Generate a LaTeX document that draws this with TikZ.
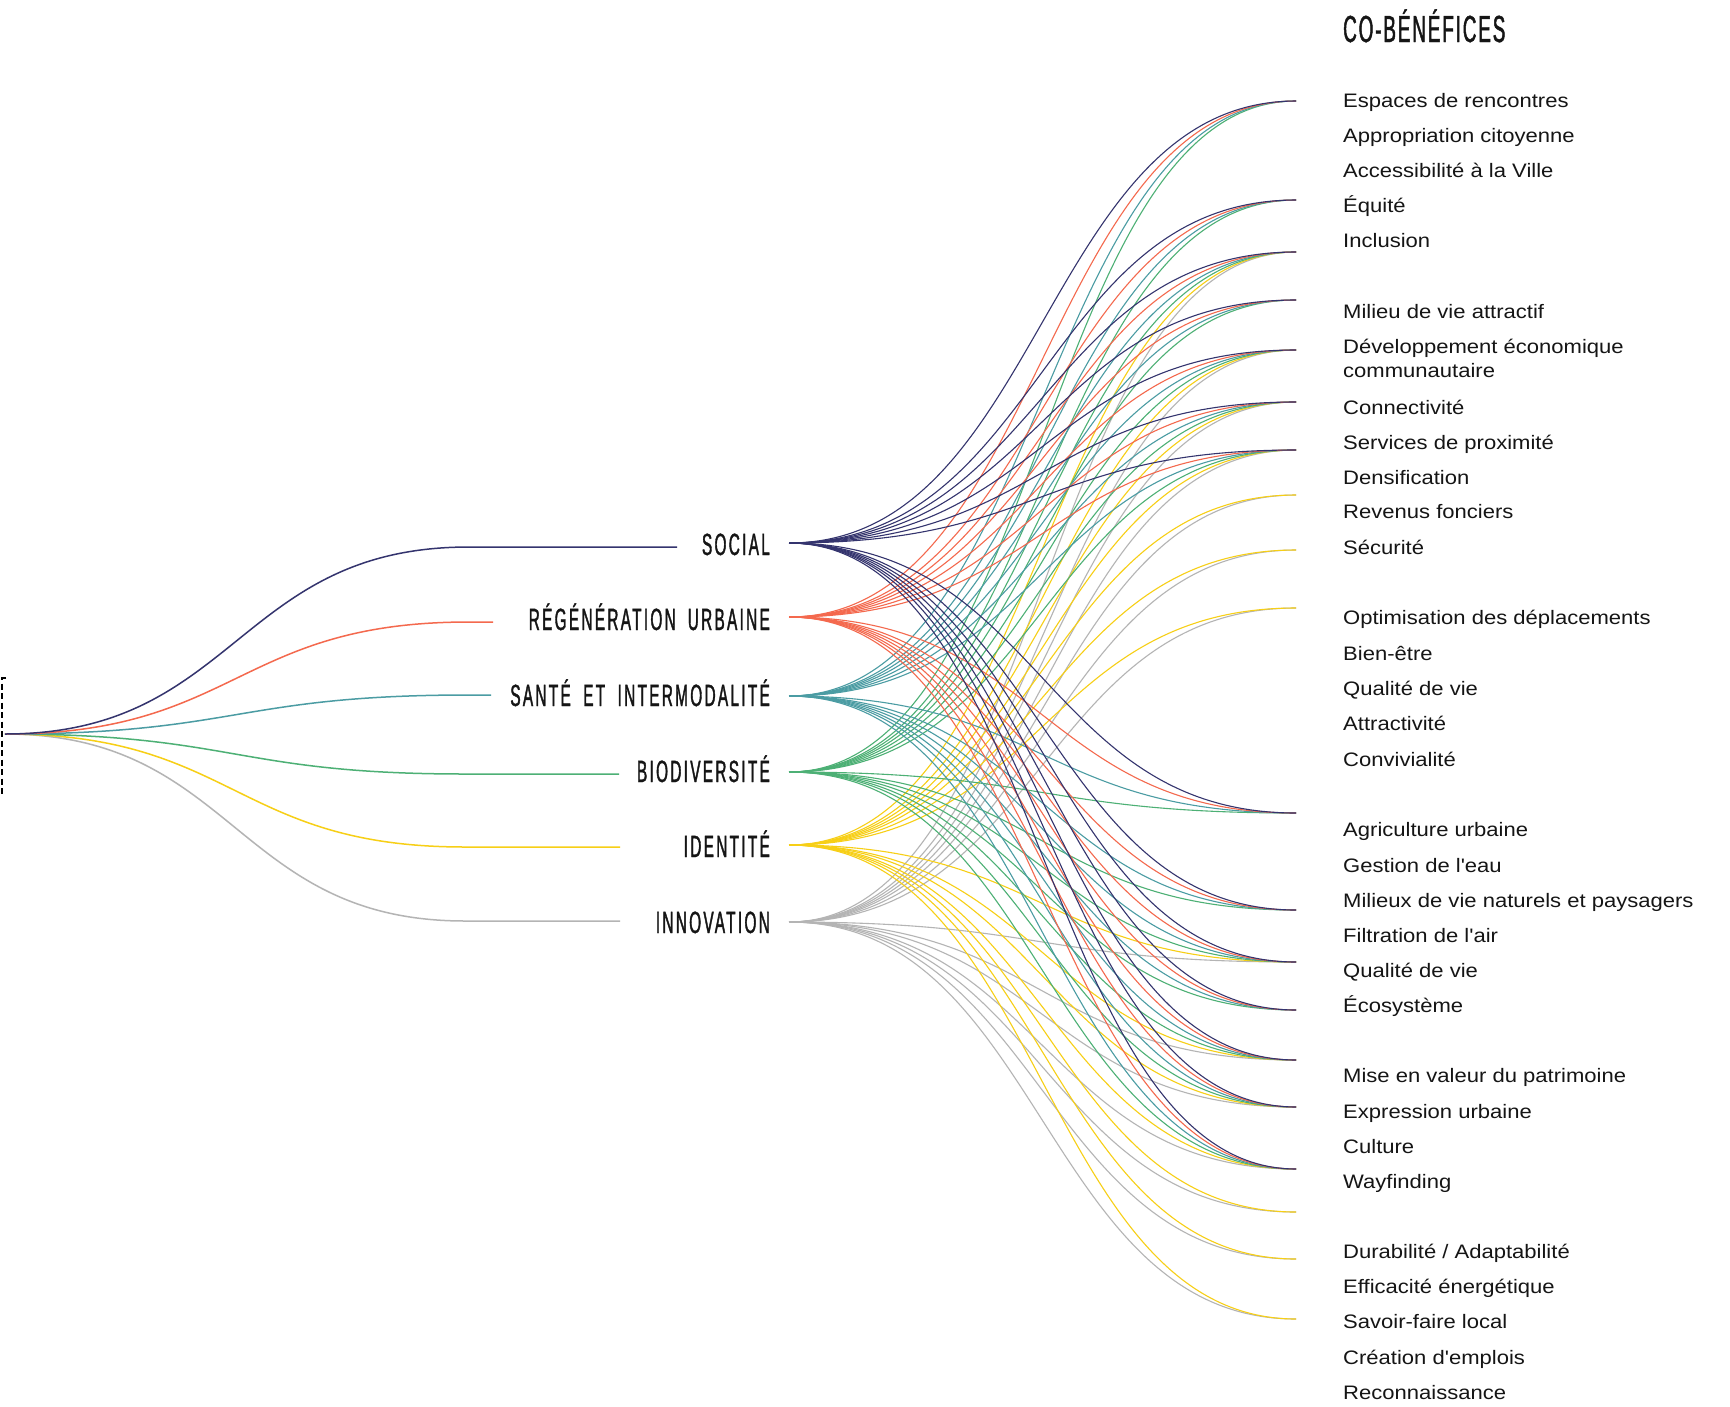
\documentclass[tikz,border=0pt]{standalone}
\usepackage{fontspec}
\newfontfamily\itemfont{Liberation Sans}[FakeStretch=1.13]
\newfontfamily\catfont{Liberation Sans}[FakeStretch=0.5,FakeBold=1.2,LetterSpace=7.5]
\newfontfamily\headfont{Liberation Sans}[FakeStretch=0.5,FakeBold=1.2,LetterSpace=5]
\usetikzlibrary{calc}
\definecolor{cSoc}{HTML}{34346E}
\definecolor{cReg}{HTML}{F4694E}
\definecolor{cSan}{HTML}{4B9CA3}
\definecolor{cBio}{HTML}{4DB075}
\definecolor{cIde}{HTML}{F7CF16}
\definecolor{cInn}{HTML}{B4B4B4}
\definecolor{txt}{HTML}{151515}
\begin{document}
\begin{tikzpicture}[x=1pt,y=-1pt,
  item/.style={anchor=base west, inner sep=0pt, text=txt, font=\itemfont\fontsize{19.5}{23}\selectfont},
  cat/.style={anchor=base east, inner sep=0pt, text=txt, font=\catfont\fontsize{30.7}{34}\selectfont},
  head/.style={anchor=base west, inner sep=0pt, text=txt, font=\headfont\fontsize{37.7}{40}\selectfont},
  fan/.style={line width=1.1pt},
  trunk/.style={line width=1.5pt},
  bracket/.style={black, line width=1.8pt, dash pattern=on 6pt off 3.5pt}]
\useasboundingbox[fill=white] (0,0) rectangle (1730,1406);

% root and bracket
\coordinate (root) at (5,734);
\draw[bracket] (6,678) -- (2,678) -- (2,793) -- (6,793);

% category labels
\node[cat] (cat1) at (770,555) {SOCIAL};
\node[cat] (cat2) at (770,630) {RÉGÉNÉRATION\hspace{12pt}URBAINE};
\node[cat] (cat3) at (770,706) {SANTÉ\hspace{12.5pt}ET\hspace{12.5pt}INTERMODALITÉ};
\node[cat] (cat4) at (770,782) {BIODIVERSITÉ};
\node[cat] (cat5) at (770,857) {IDENTITÉ};
\node[cat] (cat6) at (770,933) {INNOVATION};

% trunk coordinates
\coordinate (k1) at (469,547); \coordinate (l1) at (677,547);
\coordinate (k2) at (469,622); \coordinate (l2) at (493,622);
\coordinate (k3) at (469,695); \coordinate (l3) at (491,695);
\coordinate (k4) at (465,774); \coordinate (l4) at (619,774);
\coordinate (k5) at (465,847); \coordinate (l5) at (620,847);
\coordinate (k6) at (465,921); \coordinate (l6) at (620,921);

% fan start coordinates
\coordinate (s1) at (789,543);
\coordinate (s2) at (789,617);
\coordinate (s3) at (789,696);
\coordinate (s4) at (789,772);
\coordinate (s5) at (789,845);
\coordinate (s6) at (789,922);

% fan end coordinates
\foreach \y [count=\i] in {101,200,252,300,350,402,450,495,550,608,813,910,962,1010,1060,1107,1169,1212,1259,1319}
  \coordinate (e\i) at (1296,\y);

% trunks
\foreach \c/\col in {6/cInn,5/cIde,4/cBio,3/cSan,2/cReg,1/cSoc}{
  \draw[trunk,\col] let \p1=(root),\p2=(k\c),\n1={(\x1+\x2)/2} in
    (root) .. controls (\n1,\y1) and (\n1,\y2) .. (k\c) -- (l\c);
}

% fans
\foreach \c/\col in {6/cInn,5/cIde}{
  \foreach \e in {3,5,6,7,8,9,10,13,15,16,17,18,19,20}{
    \draw[fan,\col] let \p1=(s\c),\p2=(e\e),\n1={(\x1+\x2)/2} in
      (s\c) .. controls (\n1,\y1) and (\n1,\y2) .. (e\e);
  }
}
\foreach \c/\col in {4/cBio,3/cSan,2/cReg,1/cSoc}{
  \foreach \e in {1,2,3,4,5,6,7,11,12,13,14,15,16,17}{
    \draw[fan,\col] let \p1=(s\c),\p2=(e\e),\n1={(\x1+\x2)/2} in
      (s\c) .. controls (\n1,\y1) and (\n1,\y2) .. (e\e);
  }
}

% header
\node[head] (title) at (1343,42) {CO-BÉNÉFICES};

% co-benefits
\node[item] (b1) at (1343,107.3) {Espaces de rencontres};
\node[item] (b2) at (1343,142.7) {Appropriation citoyenne};
\node[item] (b3) at (1343,177.7) {Accessibilité à la Ville};
\node[item] (b4) at (1343,212.3) {Équité};
\node[item] (b5) at (1343,247.3) {Inclusion};
\node[item] (b6) at (1343,318.1) {Milieu de vie attractif};
\node[item] (b7) at (1343,353.4) {Développement économique};
\node[item] (b7b) at (1343,377.7) {communautaire};
\node[item] (b8) at (1343,414.1) {Connectivité};
\node[item] (b9) at (1343,449.4) {Services de proximité};
\node[item] (b10) at (1343,484.7) {Densification};
\node[item] (b11) at (1343,518.9) {Revenus fonciers};
\node[item] (b12) at (1343,554.2) {Sécurité};
\node[item] (b13) at (1343,624.8) {Optimisation des déplacements};
\node[item] (b14) at (1343,660.1) {Bien-être};
\node[item] (b15) at (1343,695.4) {Qualité de vie};
\node[item] (b16) at (1343,730.7) {Attractivité};
\node[item] (b17) at (1343,766.0) {Convivialité};
\node[item] (b18) at (1343,836.7) {Agriculture urbaine};
\node[item] (b19) at (1343,872.0) {Gestion de l'eau};
\node[item] (b20) at (1343,907.3) {Milieux de vie naturels et paysagers};
\node[item] (b21) at (1343,942.6) {Filtration de l'air};
\node[item] (b22) at (1343,977.9) {Qualité de vie};
\node[item] (b23) at (1343,1012.1) {Écosystème};
\node[item] (b24) at (1343,1082.7) {Mise en valeur du patrimoine};
\node[item] (b25) at (1343,1118.0) {Expression urbaine};
\node[item] (b26) at (1343,1153.3) {Culture};
\node[item] (b27) at (1343,1188.6) {Wayfinding};
\node[item] (b28) at (1343,1258.1) {Durabilité / Adaptabilité};
\node[item] (b29) at (1343,1293.4) {Efficacité énergétique};
\node[item] (b30) at (1343,1328.7) {Savoir-faire local};
\node[item] (b31) at (1343,1364.0) {Création d'emplois};
\node[item] (b32) at (1343,1399.3) {Reconnaissance};
\end{tikzpicture}
\end{document}
